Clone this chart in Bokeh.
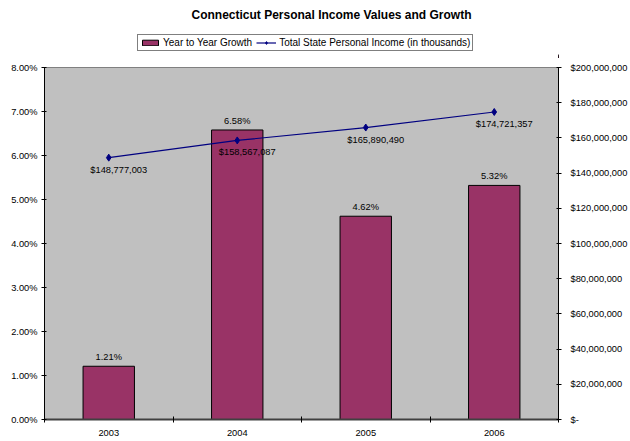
from bokeh.plotting import figure
from bokeh.layouts import column
from bokeh.models import (Range1d, LinearAxis, FixedTicker, NumeralTickFormatter,
                          BasicTickFormatter, Legend, LegendItem, Label, ColumnDataSource)
from bokeh.core.properties import value
from bokeh.embed import file_html
from bokeh.resources import INLINE

# ---- data ----
years = [2003, 2004, 2005, 2006]
growth = [0.0121, 0.0658, 0.0462, 0.0532]
income = [148777003, 158567087, 165890490, 174721357]
pct_ticks = [0.0, 0.01, 0.02, 0.03, 0.04, 0.05, 0.06, 0.07, 0.08]
income_ticks = [0, 20000000, 40000000, 60000000, 80000000, 100000000,
                120000000, 140000000, 160000000, 180000000, 200000000]
title_text = "Connecticut Personal Income Values and Growth"
bar_name = "Year to Year Growth"
line_name = "Total State Personal Income (in thousands)"

FONT = "Liberation Sans"
FS = "9.3px"
BAR_FILL = "#993366"
LINE_COLOR = "#000080"
MARKER_SIZE = 7

W, H, HEAD = 630, 441, 58
FRAME_LEFT, FRAME_RIGHT = 44, 67

src = ColumnDataSource(dict(
    year=years,
    growth=growth,
    income=income,
    growth_lbl=["{:.2f}%".format(g * 100) for g in growth],
    income_lbl=["${:,}".format(v) for v in income],
))

# ---------------- header: title + legend ----------------
# (its frame is aligned with the main chart's frame by the column layout)
head = figure(width=W, height=HEAD, output_backend="svg", toolbar_location=None,
              title=None, x_axis_location=None, y_axis_location=None,
              x_range=Range1d(0, 1), y_range=Range1d(0, 1),
              min_border_left=FRAME_LEFT, min_border_right=FRAME_RIGHT,
              min_border_top=0, min_border_bottom=0)
head.outline_line_color = None
head.background_fill_color = "white"
head.border_fill_color = "white"
head.grid.visible = False

# legend proxies: same data, but far outside this header's ranges (never visible)
hb = head.vbar(x="year", top="growth", width=0.4, source=src,
               fill_color=BAR_FILL, line_color="black", line_width=1)
hl = head.line(x="year", y="income", source=src, line_color=LINE_COLOR, line_width=1.2)
hm = head.scatter(x="year", y="income", source=src, marker="diamond", size=MARKER_SIZE,
                  fill_color=LINE_COLOR, line_color=LINE_COLOR)

head.add_layout(Label(x=331 - FRAME_LEFT, y=HEAD - 14, x_units="screen", y_units="screen",
                      text=title_text, text_align="center", text_baseline="middle",
                      text_font=FONT, text_font_size="12px", text_font_style="bold",
                      text_color="black"))

legend = Legend(items=[LegendItem(label=bar_name, renderers=[hb]),
                       LegendItem(label=line_name, renderers=[hl, hm])],
                orientation="horizontal", location=(137 - FRAME_LEFT, HEAD - 51),
                label_text_font=FONT, label_text_font_size="10px",
                label_text_color="black",
                glyph_width=20, glyph_height=7,
                label_standoff=3, spacing=4, padding=2, margin=0,
                border_line_color="black", border_line_width=1,
                background_fill_color="white", background_fill_alpha=1.0)
head.add_layout(legend, "center")

# ---------------- main chart ----------------
p = figure(width=W, height=H - HEAD, output_backend="svg", toolbar_location=None,
           title=None,
           x_range=Range1d(years[0] - 0.5, years[-1] + 0.5),
           y_range=Range1d(pct_ticks[0], pct_ticks[-1]),
           min_border_left=FRAME_LEFT, min_border_right=FRAME_RIGHT, min_border_top=9,
           min_border_bottom=22)
p.extra_y_ranges = {"income": Range1d(income_ticks[0], income_ticks[-1])}

p.background_fill_color = "#C0C0C0"
p.border_fill_color = "white"
p.outline_line_color = "#808080"
p.grid.visible = False

# bars
p.vbar(x="year", top="growth", width=0.4, source=src,
       fill_color=BAR_FILL, line_color="black", line_width=1)
p.text(x="year", y="growth", text="growth_lbl", source=src,
       text_align="center", text_baseline="bottom", y_offset=-4,
       text_font=value(FONT), text_font_size=FS, text_color="black")

# line
p.line(x="year", y="income", source=src, y_range_name="income",
       line_color=LINE_COLOR, line_width=1.2)
p.scatter(x="year", y="income", source=src, y_range_name="income",
          marker="diamond", size=MARKER_SIZE, fill_color=LINE_COLOR, line_color=LINE_COLOR)
p.text(x="year", y="income", text="income_lbl", source=src, y_range_name="income",
       text_align="center", text_baseline="middle", x_offset=10, y_offset=12,
       text_font=value(FONT), text_font_size=FS, text_color="black")

# x axis
xa = p.xaxis[0]
xa.ticker = FixedTicker(ticks=years,
                        minor_ticks=[y - 0.5 for y in years] + [years[-1] + 0.5])
xa.formatter = BasicTickFormatter(use_scientific=False)
xa.major_tick_in = 0
xa.major_tick_out = 0
xa.minor_tick_in = 3
xa.minor_tick_out = 3
xa.minor_tick_line_color = "black"
xa.axis_line_color = "#404040"
xa.axis_line_width = 2
xa.major_label_standoff = 7
xa.major_label_text_font = FONT
xa.major_label_text_font_size = FS
xa.major_label_text_color = "black"

# left axis
ya = p.yaxis[0]
ya.ticker = FixedTicker(ticks=pct_ticks)
ya.formatter = NumeralTickFormatter(format="0.00%")
ya.major_tick_in = 2
ya.major_tick_out = 3
ya.minor_tick_in = 0
ya.minor_tick_out = 0
ya.major_label_standoff = 4
ya.axis_line_color = "black"
ya.major_label_text_font = FONT
ya.major_label_text_font_size = FS
ya.major_label_text_color = "black"

# right axis
ra = LinearAxis(y_range_name="income",
                ticker=FixedTicker(ticks=income_ticks),
                formatter=NumeralTickFormatter(format="$0,0"))
ra.major_label_overrides = {0: "$-"}
ra.major_tick_in = 2
ra.major_tick_out = 3
ra.minor_tick_in = 0
ra.minor_tick_out = 0
ra.major_label_standoff = 9
ra.axis_line_color = "black"
ra.major_label_text_font = FONT
ra.major_label_text_font_size = FS
ra.major_label_text_color = "black"
p.add_layout(ra, "right")

layout = column(head, p, spacing=0)
open("out.html", "w").write(file_html(layout, INLINE))
